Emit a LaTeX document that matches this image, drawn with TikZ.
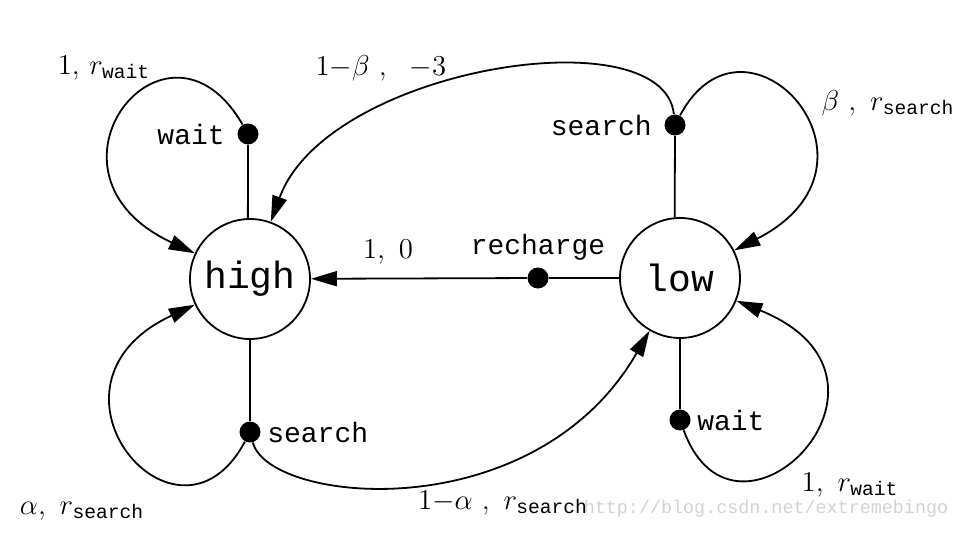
\documentclass[tikz,border=0pt]{standalone}
\usepackage{fontspec}
\setmonofont{Liberation Mono}
\usetikzlibrary{arrows.meta, positioning}
\tikzset{
	state/.style={circle, draw=black, line width=0.9pt, fill=white, minimum size=60pt, inner sep=0pt, font=\fontsize{19}{22}\selectfont\ttfamily},
	choice/.style={circle, fill=black, minimum size=10.5pt, inner sep=0pt},
	actlabel/.style={inner sep=1pt, font=\fontsize{14}{16}\selectfont\ttfamily},
	problabel/.style={inner sep=0pt, font=\fontsize{14}{16}\selectfont},
	arrow/.style={-{Triangle[length=13pt, width=7.5pt]}, line width=0.9pt},
	plain/.style={line width=0.9pt},
}

\begin{document}
\begin{tikzpicture}[x=0.5pt, y=-0.5pt]
	\useasboundingbox (0,0) rectangle (958,551);
	% states and action dots
	\node[state] (high) at (250,279) {high};
	\node[state] (low) at (680,278) {low};
	\node[choice] (hwait) at (248,134) {};
	\node[choice] (hsearch) at (250,432) {};
	\node[choice] (lsearch) at (675,125) {};
	\node[choice] (lwait) at (680,420) {};
	\node[choice] (recharge) at (538,278) {};

	% action stems
	\draw[plain] (high.92) -- (hwait);
	\draw[plain] (high) -- (hsearch);
	\draw[plain] (low.95) -- (lsearch);
	\draw[plain] (low) -- (lwait);
	\draw[plain] (low) -- (recharge);

	% transitions
	\draw[arrow] (recharge) -- (high);
	\draw[arrow] (hwait) to[out=120, in=155, out distance=76pt, in distance=95pt] (high);
	\draw[arrow] (hsearch) to[out=-118, in=205, out distance=72pt, in distance=95pt] (high);
	\draw[arrow] (hsearch) to[out=-75, in=240, out distance=32pt, in distance=115pt] (low);
	\draw[arrow] (lsearch) to[out=62, in=27, out distance=70pt, in distance=95pt] (low);
	\draw[arrow] (lsearch) to[out=96, in=70, out distance=50pt, in distance=82pt] (high);
	\draw[arrow] (lwait) to[out=-70, in=-22, out distance=76pt, in distance=104pt] (low);

	% labels
	\node[actlabel, left=5pt of hwait] (hwaitl) {wait};
	\node[actlabel, right=2pt of hsearch] (hsearchl) {search};
	\node[actlabel, left=5pt of lsearch] (lsearchl) {search};
	\node[actlabel, right=2pt of lwait] (lwaitl) {wait};
	\node[actlabel, above=2pt of recharge] (rechargel) {recharge};
	\node[problabel] (p1) at (104,68) {$1,\, r_{\mathtt{wait}}$};
	\node[problabel] (p2) at (82,511) {$\alpha,\ r_{\mathtt{search}}$};
	\node[problabel] (p3) at (503,503) {$1{-}\alpha\ ,\ r_{\mathtt{search}}$};
	\node[problabel] (p4) at (850,485) {$1,\ r_{\mathtt{wait}}$};
	\node[problabel] (p5) at (888,103) {$\beta\ ,\ r_{\mathtt{search}}$};
	\node[problabel] (p6) at (381,68) {$1{-}\beta\ ,\ \ {-}3$};
	\node[problabel] (p7) at (388,252) {$1,\ 0$};
	\node[font=\fontsize{9.2}{10}\selectfont\ttfamily, text=gray!35] (mark) at (766,509) {http://blog.csdn.net/extremebingo};
\end{tikzpicture}
\end{document}
